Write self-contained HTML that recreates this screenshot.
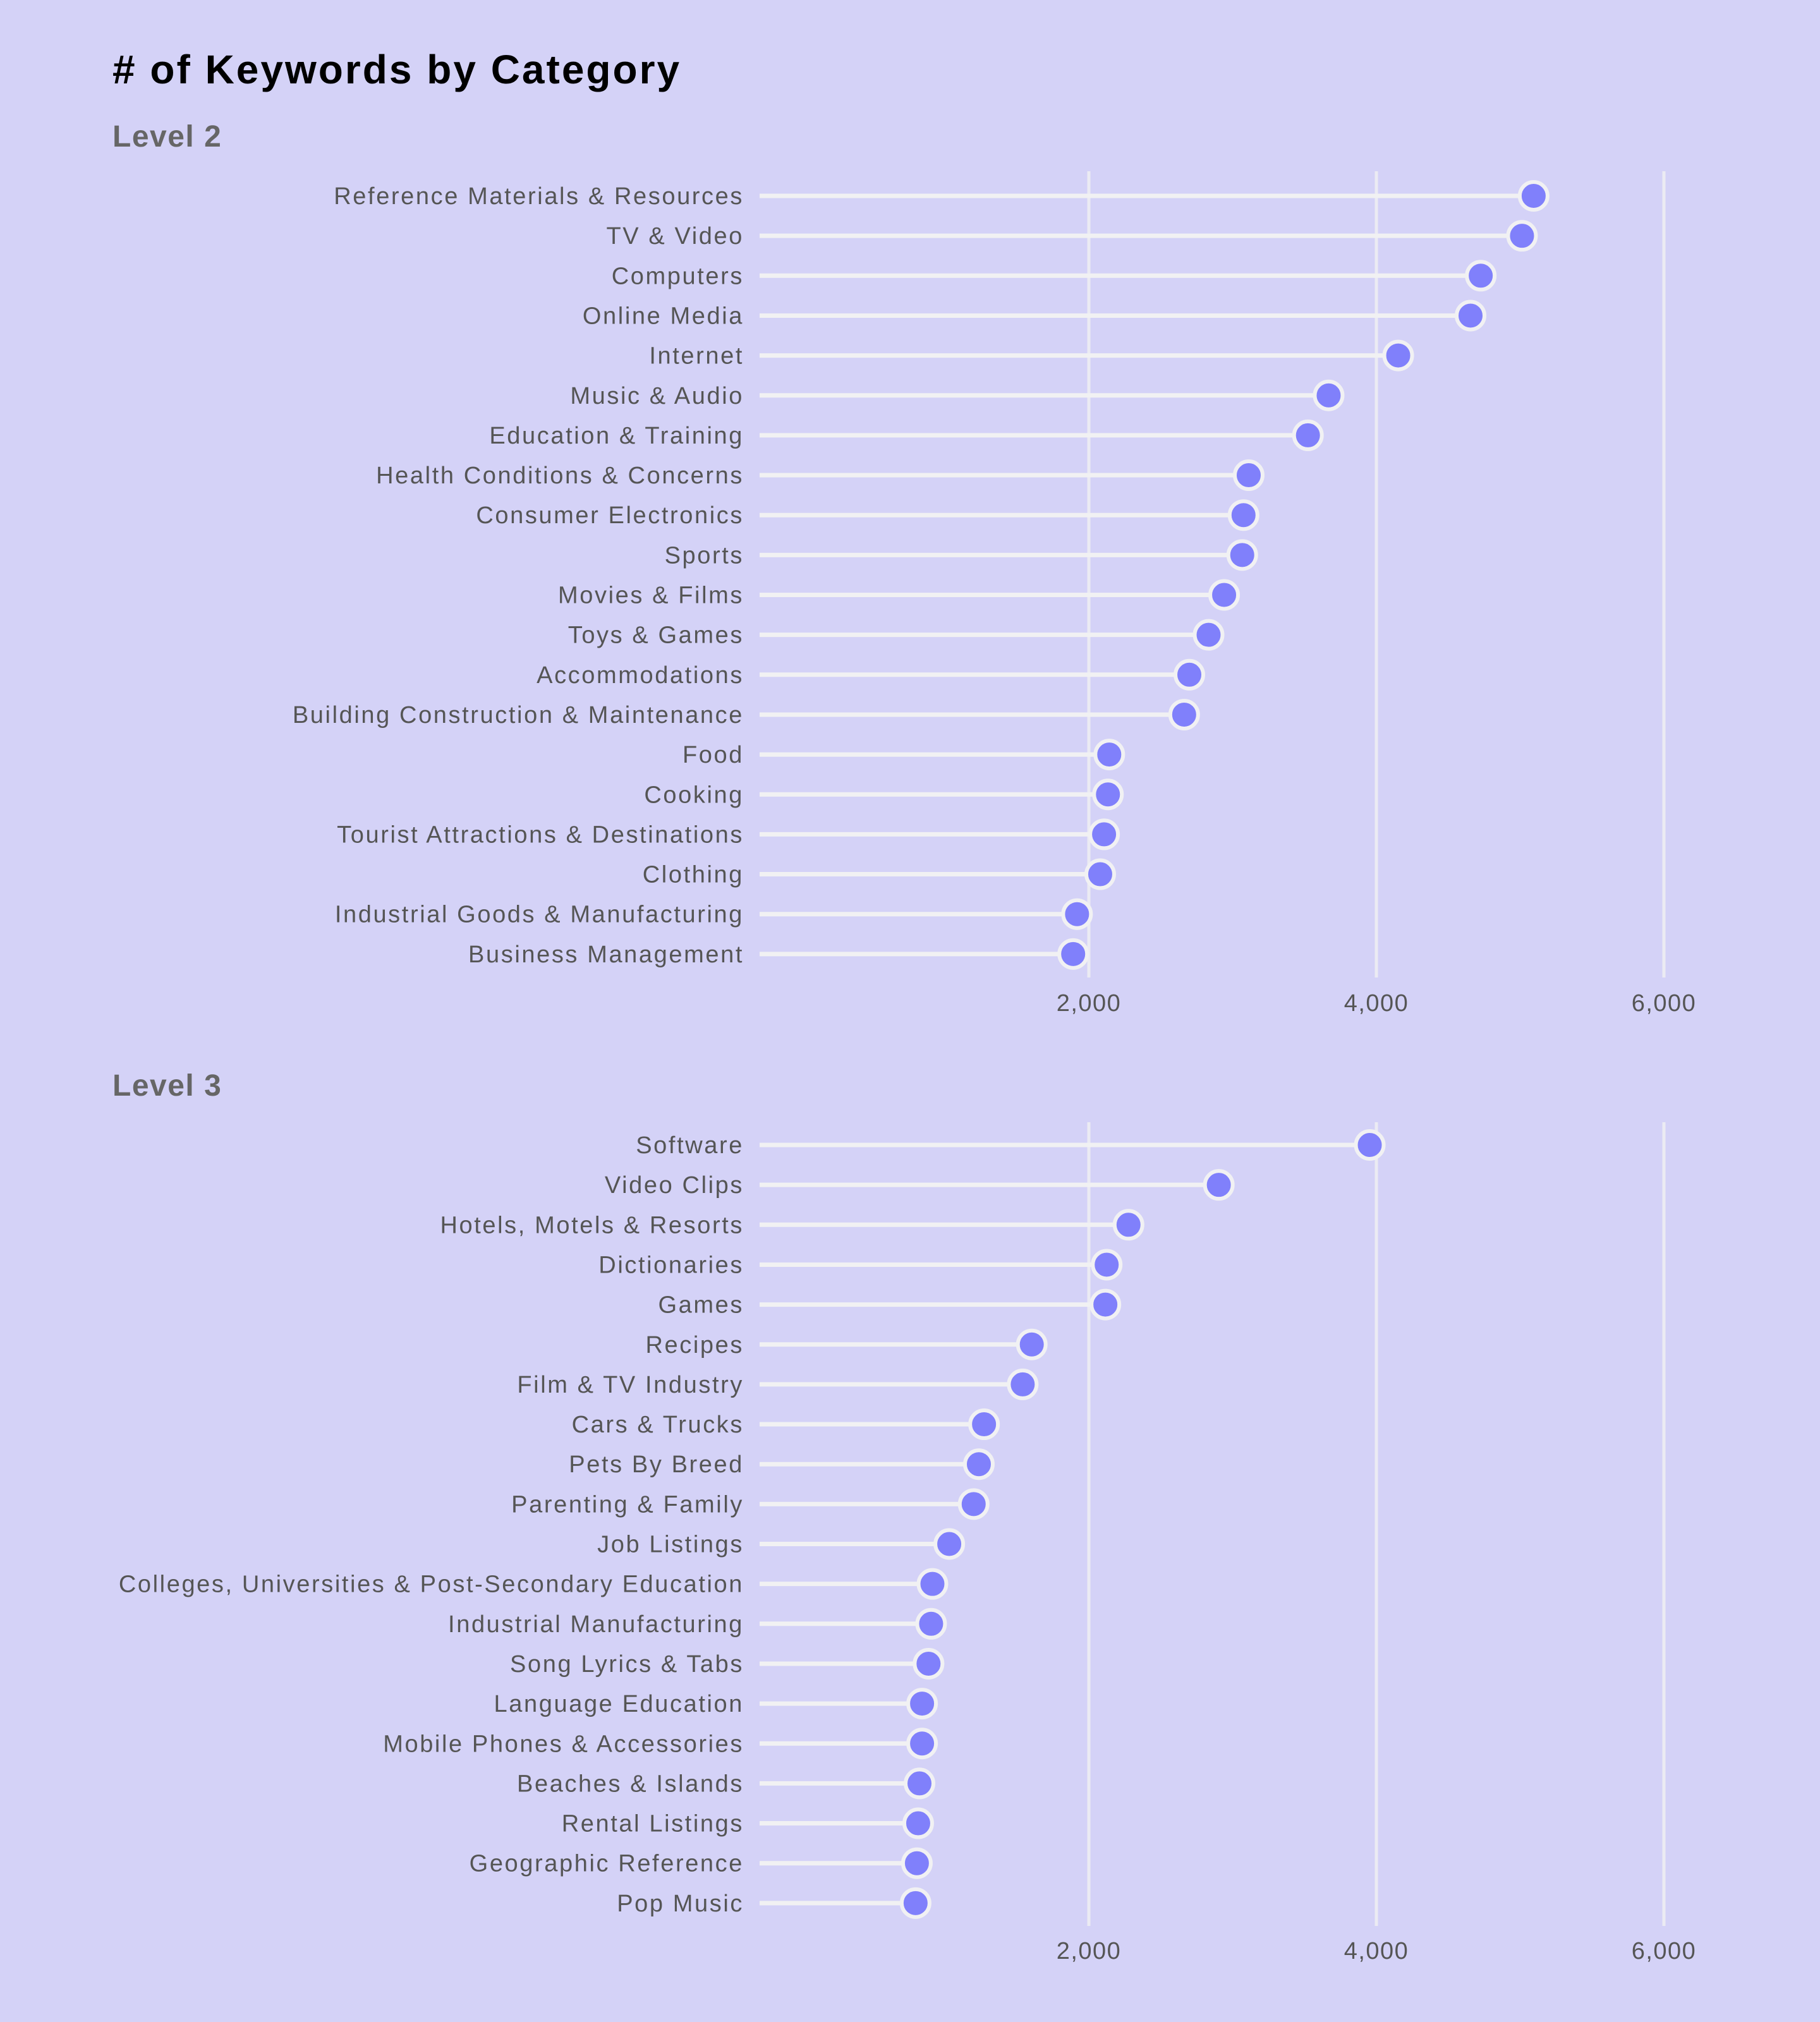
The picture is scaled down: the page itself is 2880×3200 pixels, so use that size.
<!DOCTYPE html>
<html><head><meta charset="utf-8"><style>
html,body{margin:0;padding:0;background:#d4d2f7;}
svg{display:block;font-family:"Liberation Sans",sans-serif;}
</style></head><body>
<svg id="chart" width="2880" height="3200" viewBox="0 0 2880 3200">
<rect width="2880" height="3200" fill="#d4d2f7"/>
<text x="178" y="132" font-size="64" font-weight="bold" fill="#000" letter-spacing="3"># of Keywords by Category</text>
</svg>
<script>
const level2Categories=["Reference Materials & Resources","TV & Video","Computers","Online Media","Internet","Music & Audio","Education & Training","Health Conditions & Concerns","Consumer Electronics","Sports","Movies & Films","Toys & Games","Accommodations","Building Construction & Maintenance","Food","Cooking","Tourist Attractions & Destinations","Clothing","Industrial Goods & Manufacturing","Business Management"];
const level2Values=[5094,5013,4726,4655,4152,3668,3524,3112,3076,3067,2941,2833,2699,2663,2142,2133,2106,2079,1918,1891];
const level3Categories=["Software","Video Clips","Hotels, Motels & Resorts","Dictionaries","Games","Recipes","Film & TV Industry","Cars & Trucks","Pets By Breed","Parenting & Family","Job Listings","Colleges, Universities & Post-Secondary Education","Industrial Manufacturing","Song Lyrics & Tabs","Language Education","Mobile Phones & Accessories","Beaches & Islands","Rental Listings","Geographic Reference","Pop Music"];
const level3Values=[3954,2904,2276,2124,2115,1603,1540,1271,1235,1199,1029,912,903,885,840,840,822,813,804,795];
const tickValues=[2000,4000,6000];
const tickLabels=["2,000","4,000","6,000"];

const NS="http://www.w3.org/2000/svg";
const svg=document.getElementById('chart');
function xScale(v){return 1268+v*0.2275;}
function mk(tag,attrs){const e=document.createElementNS(NS,tag);for(const k in attrs)e.setAttribute(k,attrs[k]);return e;}

function panel(title,key,cats,vals,titleY,top,gridTop,gridBottom,tickY){
  const g=mk('g',{});
  
  
  svg.appendChild(g);
  const t=mk('text',{x:178,y:titleY,'font-size':48,'font-weight':'bold',fill:'#666','letter-spacing':1.5});
  
  
  t.textContent=title;g.appendChild(t);
  tickValues.forEach((v,i)=>{
    const l=mk('line',{x1:xScale(v),x2:xScale(v),y1:gridTop,y2:gridBottom,stroke:'#ebebf3','stroke-width':5});
    
    
    g.appendChild(l);
    const tx=mk('text',{x:xScale(v),y:tickY,'font-size':38,fill:'#555','text-anchor':'middle','letter-spacing':1.5});
    
    
    tx.textContent=tickLabels[i];g.appendChild(tx);
  });
  const step=63.15;
  cats.forEach((c,i)=>{
    const y=top+i*step;
    const lb=mk('text',{x:1177,y:y+13,'font-size':38,fill:'#555','text-anchor':'end','letter-spacing':2.6});
    
    
    lb.textContent=c;g.appendChild(lb);
    const s=mk('line',{x1:1202,x2:xScale(vals[i]),y1:y,y2:y,stroke:'#f1f1f3','stroke-width':7});
    
    
    g.appendChild(s);
    const d=mk('circle',{cx:xScale(vals[i]),cy:y,r:22,fill:'#8080fb',stroke:'#f1f1f3','stroke-width':6});
    
    
    g.appendChild(d);
  });
}
panel('Level 2','level-2',level2Categories,level2Values,232,310,271,1547,1600);
panel('Level 3','level-3',level3Categories,level3Values,1734,1812,1776,3048,3100);
</script>
</body></html>
